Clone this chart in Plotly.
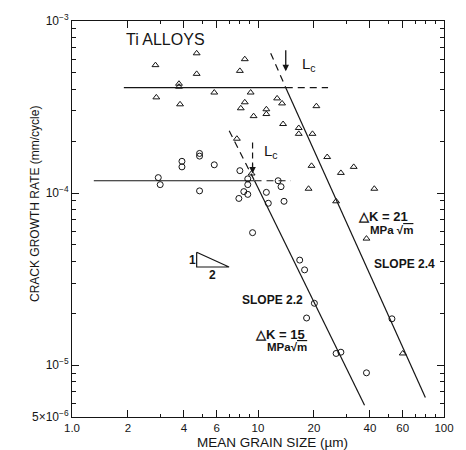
import numpy as np
import plotly.graph_objects as go

# ---- data ----
tri_x = [2.81, 4.68, 4.68, 3.76, 3.76, 2.84, 3.81, 5.82, 8.49, 7.99, 9.13, 8.49, 8.08, 9.47,
         11.09, 11.09, 12.67, 13.47, 13.64, 20.6, 16.56, 16.56, 19.63, 23.55, 19.4, 27.9,
         32.7, 18.7, 42.2, 26.3, 7.70, 38.3, 60.0, 9.24]
tri_y = [5.54e-4, 6.49e-4, 4.93e-4, 4.32e-4, 4.15e-4, 3.60e-4, 3.28e-4, 3.84e-4, 6.0e-4,
         5.13e-4, 3.84e-4, 3.37e-4, 3.11e-4, 2.80e-4, 3.07e-4, 2.88e-4, 3.55e-4, 3.32e-4,
         2.52e-4, 3.20e-4, 2.39e-4, 2.21e-4, 2.21e-4, 1.62e-4, 1.44e-4, 1.31e-4, 1.42e-4,
         1.06e-4, 1.06e-4, 8.96e-5, 2.07e-4, 5.44e-5, 1.17e-5, 1.30e-4]

circ_x = [2.91, 2.98, 3.90, 3.90, 4.85, 4.85, 5.82, 4.85, 7.99, 8.81, 8.81, 8.39, 8.81, 7.89,
          12.83, 13.3, 11.09, 11.36, 13.8, 9.35, 16.76, 17.8, 20.1, 18.25, 26.3, 27.9, 38.3, 52.5]
circ_y = [1.23e-4, 1.12e-4, 1.53e-4, 1.42e-4, 1.70e-4, 1.64e-4, 1.46e-4, 1.03e-4, 1.35e-4,
          1.21e-4, 1.12e-4, 1.02e-4, 9.83e-5, 9.31e-5, 1.18e-4, 1.09e-4, 1.01e-4, 8.73e-5,
          8.96e-5, 5.89e-5, 4.08e-5, 3.58e-5, 2.29e-5, 1.88e-5, 1.17e-5, 1.19e-5, 9.03e-6, 1.86e-5]

# fitted lines (DeltaK = 21: plateau + slope 2.4 ; DeltaK = 15: plateau + slope 2.2)
k21_plateau_x = [1.90, 14.1]
k21_plateau_y = [4.1e-4, 4.1e-4]
k21_plateau_dash_x = [14.1, 23.8]
k21_plateau_dash_y = [4.1e-4, 4.1e-4]
k21_slope_x = [14.1, 79.4]
k21_slope_y = [4.1e-4, 6.5e-6]
k21_slope_dash_x = [11.7, 14.1]
k21_slope_dash_y = [6.5e-4, 4.1e-4]

k15_plateau_x = [1.31, 9.58]
k15_plateau_y = [1.18e-4, 1.18e-4]
k15_plateau_dash_x = [9.58, 15.0]
k15_plateau_dash_y = [1.18e-4, 1.18e-4]
k15_slope_x = [9.58, 37.4]
k15_slope_y = [1.18e-4, 5.86e-6]
k15_slope_dash_x = [7.0, 9.58]
k15_slope_dash_y = [2.3e-4, 1.18e-4]

# slope indicator triangle (1 : 2)
slope_tri_x = [4.68, 4.68, 6.99, 4.68]
slope_tri_y = [4.53e-5, 3.72e-5, 3.72e-5, 4.53e-5]

# Lc markers
lc1_x = 14.1
lc1_y = [6.9e-4, 5.1e-4]
lc2_x = 9.35
lc2_y = [1.97e-4, 1.30e-4]

x_tickvals = [1, 2, 4, 6, 10, 20, 40, 60, 100]
x_ticktext = ["1.0", "2", "4", "6", "10", "20", "40", "60", "100"]
x_minor = [3, 5, 7, 8, 9, 30, 50, 70, 80, 90]
y_tickvals = [1e-3, 1e-4, 1e-5, 5e-6]
y_ticktext = ["10<sup>−3</sup>", "10<sup>−4</sup>", "10<sup>−5</sup>", "5×10<sup>−6</sup>"]
y_minor = [m * 10.0 ** e for e in (-6, -5, -4) for m in range(2, 10) if 5e-6 <= m * 10.0 ** e < 1e-3]

INK = "#151515"
FONT = "Liberation Sans, Arial, sans-serif"

fig = go.Figure()

def line(x, y, dash="solid"):
    fig.add_trace(go.Scatter(x=x, y=y, mode="lines",
                             line=dict(color=INK, width=1.2, dash=dash),
                             showlegend=False, hoverinfo="skip"))

line(k21_plateau_x, k21_plateau_y)
line(k21_plateau_dash_x, k21_plateau_dash_y, "7px,5px")
line(k21_slope_x, k21_slope_y)
line(k21_slope_dash_x, k21_slope_dash_y, "7px,5px")
line(k15_plateau_x, k15_plateau_y)
line(k15_plateau_dash_x, k15_plateau_dash_y, "7px,5px")
line(k15_slope_x, k15_slope_y)
line(k15_slope_dash_x, k15_slope_dash_y, "7px,5px")
line(slope_tri_x, slope_tri_y)
line([lc2_x, lc2_x], [lc2_y[0], lc2_y[1] * 1.12], "6px,4px")

fig.add_trace(go.Scatter(x=tri_x, y=tri_y, mode="markers",
                         marker=dict(symbol="triangle-up-open", size=6, color=INK,
                                     line=dict(width=1, color=INK)),
                         showlegend=False))
fig.add_trace(go.Scatter(x=circ_x, y=circ_y, mode="markers",
                         marker=dict(symbol="circle-open", size=6, color=INK,
                                     line=dict(width=1, color=INK)),
                         showlegend=False))

L, R, T, B = 72, 15, 13, 33
W, H = 466, 450
PW, PH = W - L - R, H - T - B

def px(xp, yp):
    return (xp - L) / PW, (H - B - yp) / PH

anns = []

def txt(xp, yp, s, size=11.5, bold=True, xanchor="center"):
    xx, yy = px(xp, yp)
    anns.append(dict(x=xx, y=yy, xref="paper", yref="paper", text=(f"<b>{s}</b>" if bold else s),
                     showarrow=False, xanchor=xanchor, yanchor="middle",
                     font=dict(family=FONT, size=size, color=INK)))

txt(125, 32, "Ti ALLOYS", size=16, bold=False, xanchor="left")
txt(304, 57, "L<sub>c</sub>", size=15, bold=False, xanchor="left")
txt(266, 146, "L<sub>c</sub>", size=15, bold=False, xanchor="left")
txt(361, 212, "△K = 21", size=13, xanchor="left")
txt(374, 226, "MPa √<span style='text-decoration:overline'>m</span>", size=11.5, xanchor="left")
txt(378, 261, "SLOPE 2.4", size=12, xanchor="left")
txt(243, 298, "SLOPE 2.2", size=12, xanchor="left")
txt(256, 333, "△K = 15", size=13, xanchor="left")
txt(269, 346, "MPa√<span style='text-decoration:overline'>m</span>", size=11.5, xanchor="left")
txt(195, 257, "1", size=12, xanchor="center")
txt(215, 272, "2", size=12, xanchor="center")
txt(276, 443, "MEAN GRAIN SIZE (µm)", size=13.5, bold=False)

yx, yy = px(35, 200)
anns.append(dict(x=yx, y=yy, xref="paper", yref="paper", text="CRACK GROWTH RATE (mm/cycle)",
                 showarrow=False, textangle=-90, xanchor="center", yanchor="middle",
                 font=dict(family=FONT, size=12, color=INK)))

# Lc arrows (annotation positions on log axes are given in log10 units)
anns.append(dict(x=np.log10(lc1_x), y=np.log10(lc1_y[1]), ax=np.log10(lc1_x), ay=np.log10(lc1_y[0]),
                 xref="x", yref="y", axref="x", ayref="y", showarrow=True, arrowhead=2,
                 arrowsize=1, arrowwidth=1.3, arrowcolor=INK, text=""))
anns.append(dict(x=np.log10(lc2_x), y=np.log10(lc2_y[1]), ax=np.log10(lc2_x), ay=np.log10(lc2_y[1] * 1.15),
                 xref="x", yref="y", axref="x", ayref="y", showarrow=True, arrowhead=2,
                 arrowsize=1, arrowwidth=1.3, arrowcolor=INK, text=""))

axis_common = dict(showline=True, linecolor=INK, linewidth=1, mirror="ticks", ticks="inside",
                   tickcolor=INK, showgrid=False, zeroline=False)

fig.update_layout(
    width=W, height=H, margin=dict(l=L, r=R, t=T, b=B),
    paper_bgcolor="white", plot_bgcolor="white", showlegend=False,
    xaxis=dict(type="log", range=[0, 2], tickmode="array", tickvals=x_tickvals,
               ticktext=x_ticktext, ticklen=7, tickwidth=1,
               tickfont=dict(family=FONT, size=11.5, color=INK),
               minor=dict(tickmode="array", tickvals=x_minor, ticks="inside", ticklen=3,
                          tickcolor=INK, showgrid=False),
               **axis_common),
    yaxis=dict(type="log", range=[np.log10(5e-6), -3], tickmode="array", tickvals=y_tickvals,
               ticktext=y_ticktext, ticklen=7, tickwidth=1,
               tickfont=dict(family=FONT, size=12, color=INK),
               minor=dict(tickmode="array", tickvals=y_minor, ticks="inside", ticklen=4,
                          tickcolor=INK, showgrid=False),
               **axis_common),
    annotations=anns,
)

fig.write_html("out.html")
